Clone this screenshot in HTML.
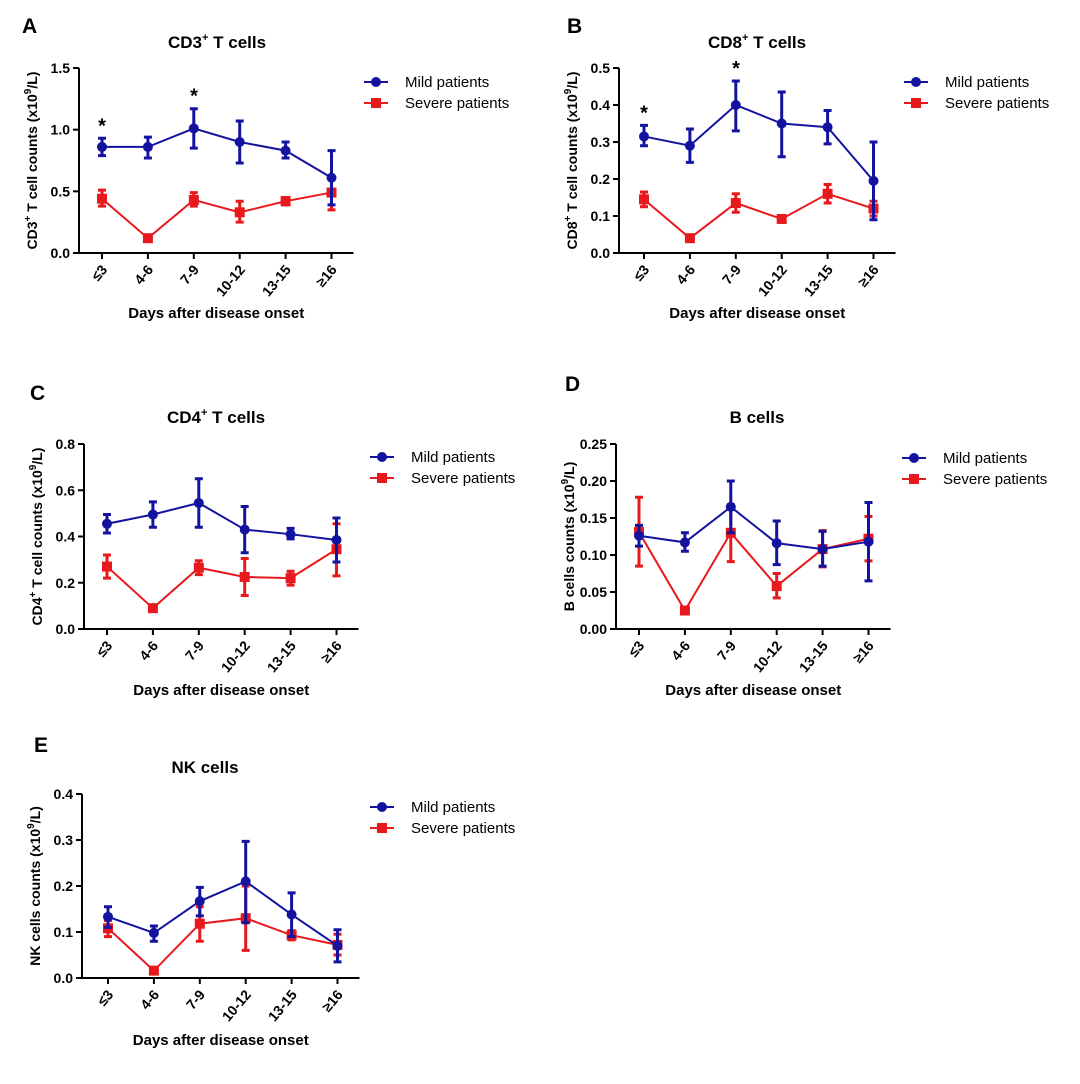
<!DOCTYPE html>
<html><head><meta charset="utf-8"><style>
body{margin:0;background:#fff}
svg{display:block;font-family:"Liberation Sans",Arial,sans-serif;font-weight:bold}
</style></head><body>
<svg id="s" width="1080" height="1084" xmlns="http://www.w3.org/2000/svg"></svg>
<script>
const B='#1313a0',R='#e8191c';
const P=[
{L:'A',lx:22,ly:33,t:['CD3','T cells'],tx:217,ty:48,ax:79,top:68,bot:253,max:1.5,ticks:[0,0.5,1,1.5],dec:1,c0:102,yl:'CD3',yls:'T cell counts',lgx:374,lgy:82,xl:313,
 m:[[.86,.79,.93],[.86,.77,.94],[1.01,.85,1.17],[.9,.73,1.07],[.83,.77,.9],[.61,.39,.83]],
 s:[[.44,.38,.51],[.12,.11,.13],[.43,.38,.49],[.33,.25,.42],[.42,.39,.45],[.49,.35,.6]],star:[[102,.93],[194,1.17]]},
{L:'B',lx:567,ly:33,t:['CD8','T cells'],tx:757,ty:48,ax:619,top:68,bot:253,max:.5,ticks:[0,.1,.2,.3,.4,.5],dec:1,c0:644,yl:'CD8',yls:'T cell counts',lgx:914,lgy:82,xl:313,
 m:[[.315,.29,.345],[.29,.245,.335],[.4,.33,.465],[.35,.26,.435],[.34,.295,.385],[.195,.09,.3]],
 s:[[.145,.125,.165],[.04,.036,.044],[.135,.11,.16],[.092,.088,.096],[.16,.135,.185],[.12,.1,.14]],star:[[644,.345],[736,.465]]},
{L:'C',lx:30,ly:400,t:['CD4','T cells'],tx:216,ty:423,ax:84,top:444,bot:629,max:.8,ticks:[0,.2,.4,.6,.8],dec:1,c0:107,yl:'CD4',yls:'T cell counts',lgx:380,lgy:457,xl:690,
 m:[[.455,.415,.495],[.495,.44,.55],[.545,.44,.65],[.43,.33,.53],[.41,.39,.435],[.385,.29,.48]],
 s:[[.27,.22,.32],[.09,.085,.095],[.265,.235,.295],[.225,.145,.305],[.22,.19,.25],[.345,.23,.455]]},
{L:'D',lx:565,ly:391,t:['B cells',''],tx:757,ty:423,ax:616,top:444,bot:629,max:.25,ticks:[0,.05,.1,.15,.2,.25],dec:2,c0:639,yl:'',yls:'B cells counts',lgx:912,lgy:458,xl:690,
 m:[[.126,.112,.14],[.117,.105,.13],[.165,.13,.2],[.116,.087,.146],[.108,.085,.132],[.118,.065,.171]],
 s:[[.131,.085,.178],[.025,.023,.027],[.13,.091,.168],[.058,.042,.075],[.108,.084,.133],[.122,.092,.152]]},
{L:'E',lx:34,ly:752,t:['NK cells',''],tx:205,ty:773,ax:82,top:794,bot:978,max:.4,ticks:[0,.1,.2,.3,.4],dec:1,c0:108,yl:'',yls:'NK cells counts',lgx:380,lgy:807,xl:1040,
 m:[[.133,.11,.155],[.098,.08,.113],[.167,.135,.197],[.21,.12,.297],[.138,.09,.185],[.07,.035,.105]],
 s:[[.108,.09,.125],[.016,.014,.018],[.118,.08,.155],[.13,.06,.2],[.093,.083,.103],[.072,.05,.095]]}
];
const cats=['≤3','4-6','7-9','10-12','13-15','≥16'];
let h='';
for(const p of P){
 const Y=v=>p.bot-(v/p.max)*(p.bot-p.top);
 const X=i=>p.c0+i*45.9;
 const right=X(5)+22;
 h+=`<text x="${p.lx}" y="${p.ly}" font-size="21">${p.L}</text>`;
 if(p.t[1]) h+=`<text x="${p.tx}" y="${p.ty}" font-size="17" text-anchor="middle">${p.t[0]}<tspan font-size="11" dy="-7">+</tspan><tspan dy="7"> ${p.t[1]}</tspan></text>`;
 else h+=`<text x="${p.tx}" y="${p.ty}" font-size="17" text-anchor="middle">${p.t[0]}</text>`;
 h+=`<path d="M${p.ax} ${p.top}V${p.bot}H${right}" stroke="#000" stroke-width="2" fill="none"/>`;
 for(const t of p.ticks){const y=Y(t);h+=`<path d="M${p.ax-6} ${y}H${p.ax}" stroke="#000" stroke-width="2"/><text x="${p.ax-9}" y="${y+5}" font-size="14" text-anchor="end">${t.toFixed(p.dec)}</text>`;}
 for(let i=0;i<6;i++){const x=X(i);h+=`<path d="M${x} ${p.bot}v6" stroke="#000" stroke-width="2"/><text transform="translate(${x+6},${p.bot+17}) rotate(-50)" font-size="14" text-anchor="end">${cats[i]}</text>`;}
 const cx=(p.ax+right)/2;
 h+=`<text x="${cx}" y="${p.xl+5}" font-size="15" text-anchor="middle">Days after disease onset</text>`;
 const my=(p.top+p.bot)/2, yx=p.ax-42;
 h+=`<text transform="translate(${yx},${my}) rotate(-90)" font-size="14" text-anchor="middle">${p.yl?p.yl+'<tspan font-size="10" dy="-6">+</tspan><tspan dy="6"> </tspan>':''}${p.yls} (x10<tspan font-size="10" dy="-6">9</tspan><tspan dy="6">/L)</tspan></text>`;
 for(const [d,c,sq] of [[p.s,R,1],[p.m,B,0]]){
  h+=`<polyline points="${d.map((v,i)=>X(i)+','+Y(v[0])).join(' ')}" fill="none" stroke="${c}" stroke-width="2"/>`;
  d.forEach((v,i)=>{const x=X(i);h+=`<path d="M${x} ${Y(v[1])}V${Y(v[2])}M${x-4} ${Y(v[1])}h8M${x-4} ${Y(v[2])}h8" stroke="${c}" stroke-width="3"/>`;
   h+=sq?`<rect x="${x-5}" y="${Y(v[0])-5}" width="10" height="10" fill="${c}"/>`:`<circle cx="${x}" cy="${Y(v[0])}" r="5" fill="${c}"/>`;});
 }
 if(p.star) for(const [x,v] of p.star) h+=`<text x="${x}" y="${Y(v)-6}" font-size="20" text-anchor="middle">*</text>`;
 h+=`<path d="M${p.lgx-10} ${p.lgy}h24" stroke="${B}" stroke-width="2"/><circle cx="${p.lgx+2}" cy="${p.lgy}" r="5" fill="${B}"/><text x="${p.lgx+31}" y="${p.lgy+5}" font-size="15" font-weight="normal">Mild patients</text>`;
 h+=`<path d="M${p.lgx-10} ${p.lgy+21}h24" stroke="${R}" stroke-width="2"/><rect x="${p.lgx-3}" y="${p.lgy+16}" width="10" height="10" fill="${R}"/><text x="${p.lgx+31}" y="${p.lgy+26}" font-size="15" font-weight="normal">Severe patients</text>`;
}
document.getElementById('s').innerHTML=h;
</script>
</body></html>
